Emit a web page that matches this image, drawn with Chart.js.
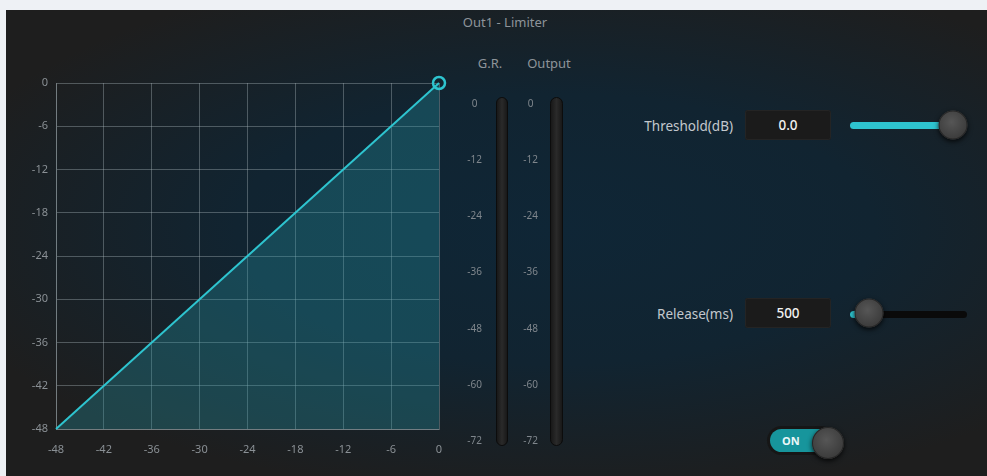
<!DOCTYPE html>
<html>
<head>
<meta charset="utf-8">
<script src="https://cdn.jsdelivr.net/npm/chart.js@4"></script>
<style>
	html, body { margin: 0; padding: 0; }
	body {
		width: 987px; height: 476px; position: relative; overflow: hidden;
		background: #eef1f5; font-family: "Noto Sans", "Open Sans", sans-serif;
	}
	.panel {
		position: absolute; left: 6px; top: 10px; right: 0; bottom: 0;
		background: radial-gradient(ellipse 65% 58% at 56% 47%, #0f2636 0%, #112431 50%, #1e1e1e 100%);
	}
	canvas { position: absolute; top: 0; }
	.txt { position: absolute; color: #8e949a; font-size: 13px; white-space: nowrap; transform: translate(-50%, -50%); }
	.lbl { position: absolute; color: #c3c8cd; font-size: 13.5px; white-space: nowrap; transform: translateY(-50%); right: 254px; }
	.box {
		position: absolute; left: 745px; width: 86px; height: 30px; background: #1b1b1b;
		border-radius: 3px; box-shadow: inset 0 0 0 1px #242424; color: #f2f2f2;
		font-size: 13.5px; font-weight: 500; line-height: 30px; text-align: center;
	}
	.track { position: absolute; height: 7px; border-radius: 4px; }
	.knob {
		position: absolute; width: 29px; height: 29px; border-radius: 50%;
		background: radial-gradient(circle at 45% 40%, #565656, #3c3c3c 70%, #333);
		box-shadow: 0 2px 5px rgba(0,0,0,0.8), inset 0 0 0 1px #262626;
		transform: translate(-50%, -50%);
	}
	.toggle {
		position: absolute; left: 770px; top: 429px; width: 62px; height: 23px; border-radius: 12px;
		background: #17959c; box-shadow: 0 0 0 3px #161616;
		color: #eaf7f8; font-size: 11px; font-weight: 700; line-height: 23px; text-indent: 12px;
	}
</style>
</head>
<body>
<div class="panel"></div>

<div class="txt" style="left:505px; top:22px;">Out1 - Limiter</div>
<div class="txt" style="left:490px; top:63px;">G.R.</div>
<div class="txt" style="left:549px; top:63px;">Output</div>

<canvas id="curve" width="470" height="476" style="left:0;"></canvas>
<canvas id="grMeter" width="68" height="476" style="left:440px;"></canvas>
<canvas id="outMeter" width="69" height="476" style="left:494px;"></canvas>

<div class="lbl" style="top:126px;">Threshold(dB)</div>
<div class="box" style="top:110px;">0.0</div>
<div class="track" style="left:850px; top:122px; width:100px; background:#2ec4cf;"></div>
<div class="knob" style="left:953px; top:125px;"></div>

<div class="lbl" style="top:314px;">Release(ms)</div>
<div class="box" style="top:298px;">500</div>
<div class="track" style="left:850px; top:311px; width:117px; background:#0a0a0a;"></div>
<div class="track" style="left:850px; top:311px; width:8px; background:#2ec4cf;"></div>
<div class="knob" style="left:869px; top:313px;"></div>

<div class="toggle">ON</div>
<div class="knob" style="left:828px; top:443px; width:32px; height:32px;"></div>

<script>
// Transfer curve of the limiter (input dB -> output dB)
var inputDb = [-48, 0];
var outputDb = [-48, 0];
var curveTicks = [-48, -42, -36, -30, -24, -18, -12, -6, 0];

// Meter scales (no signal present)
var meterTicks = [0, -12, -24, -36, -48, -60, -72];
var grLevel = [];
var outputLevel = [];

var tickFont = { family: '"Noto Sans", "Open Sans", sans-serif', size: 11 };
var gridColor = 'rgba(170, 185, 190, 0.38)';

var fixTicks = function(list) {
	return function(scale) {
		scale.ticks = list.map(function(v) { return { value: v }; });
	};
};

new Chart(document.getElementById('curve').getContext('2d'), {
	type: 'line',
	data: {
		datasets: [{
			data: inputDb.map(function(x, i) { return { x: x, y: outputDb[i] }; }),
			borderColor: '#2ec4cf',
			borderWidth: 2,
			backgroundColor: 'rgba(38, 150, 165, 0.32)',
			fill: 'start',
			clip: false,
			pointRadius: function(ctx) { return ctx.dataIndex === inputDb.length - 1 ? 6 : 0; },
			pointBorderWidth: 2.5,
			pointBorderColor: '#2ec4cf',
			pointBackgroundColor: 'rgba(0,0,0,0)'
		}]
	},
	options: {
		responsive: false,
		animation: false,
		layout: { padding: { top: 83, right: 31, bottom: 0, left: 0 } },
		plugins: { legend: { display: false }, tooltip: { enabled: false } },
		scales: {
			x: {
				type: 'linear', min: -48, max: 0,
				afterBuildTicks: fixTicks(curveTicks),
				afterFit: function(scale) { scale.height = 47; },
				grid: { color: gridColor, drawTicks: false },
				border: { color: gridColor },
				ticks: { color: '#8a9095', font: tickFont, padding: 14, maxRotation: 0 }
			},
			y: {
				type: 'linear', min: -48, max: 0,
				afterBuildTicks: fixTicks(curveTicks),
				afterFit: function(scale) { scale.width = 56; },
				grid: { color: gridColor, drawTicks: false },
				border: { color: gridColor },
				ticks: { color: '#8a9095', font: tickFont, padding: 8 }
			}
		}
	}
});

// Meter track drawn behind the (empty) level bar
var meterTrack = {
	id: 'meterTrack',
	beforeDatasetsDraw: function(chart) {
		var a = chart.chartArea, c = chart.ctx;
		var x = a.left, w = a.right - a.left, y = a.top - 7, h = a.bottom - a.top + 12;
		c.save();
		var g = c.createLinearGradient(x, 0, x + w, 0);
		g.addColorStop(0, '#151515');
		g.addColorStop(0.5, '#2a2a2a');
		g.addColorStop(1, '#151515');
		c.fillStyle = g;
		c.strokeStyle = '#0c0c0c';
		c.lineWidth = 1;
		c.beginPath();
		c.roundRect(x + 0.5, y + 0.5, w - 1, h - 1, w / 2);
		c.fill();
		c.stroke();
		c.restore();
	}
};

var makeMeter = function(id, level, pad) {
	new Chart(document.getElementById(id).getContext('2d'), {
		type: 'bar',
		data: { labels: [''], datasets: [{ data: level, backgroundColor: '#2ec4cf', base: -72 }] },
		options: {
			responsive: false,
			animation: false,
			layout: { padding: { top: 104, right: 0, bottom: 35, left: 0 } },
			plugins: { legend: { display: false }, tooltip: { enabled: false } },
			scales: {
				x: { display: false },
				y: {
					min: -72, max: 0,
					afterBuildTicks: fixTicks(meterTicks),
					afterFit: function(scale) { scale.width = 56; },
					grid: { display: false, drawTicks: false },
					border: { display: false },
					ticks: { color: '#7f868c', font: { family: tickFont.family, size: 10 }, padding: pad, crossAlign: 'center' }
				}
			}
		},
		plugins: [meterTrack]
	});
};

makeMeter('grMeter', grLevel, 14);
makeMeter('outMeter', outputLevel, 12);
</script>
</body>
</html>
